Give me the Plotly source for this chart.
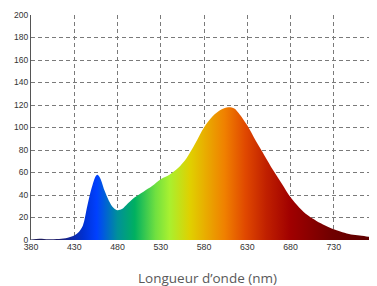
import plotly.graph_objects as go

wavelength = [380, 390, 400, 410, 420, 430, 435, 440, 445, 450, 455, 457, 460, 465, 470, 475, 480, 485,
              490, 500, 510, 520, 530, 540, 550, 560, 570, 580, 590, 600, 608, 615, 620, 630, 640,
              650, 660, 670, 680, 690, 700, 710, 720, 730, 740, 750, 760, 770, 780]
intensity = [0.5, 1.2, 0.6, 0.8, 1.5, 4, 7, 13, 30, 46, 57, 58, 55, 44, 35, 29, 26.5, 27.5,
             31, 38, 43, 48, 54, 58, 64, 73, 86, 100, 110, 116, 118, 117, 113, 102, 88,
             75, 62, 50, 38, 29, 22, 17, 13, 9.5, 7, 5, 4, 3, 2.5]

x_ticks = [380, 430, 480, 530, 580, 630, 680, 730, 780]
y_ticks = [0, 20, 40, 60, 80, 100, 120, 140, 160, 180, 200]
x_title = "Longueur d’onde (nm)"

spectrum = [
    [0.00, "#1c1c55"], [0.08, "#202070"], [0.15, "#0030d0"], [0.19, "#0040ff"],
    [0.25, "#00909a"], [0.30, "#00b060"], [0.36, "#70e040"], [0.40, "#a8f030"],
    [0.46, "#e0d000"], [0.50, "#e8b000"], [0.56, "#f08000"], [0.62, "#e04800"],
    [0.68, "#c02000"], [0.75, "#a00000"], [0.87, "#700000"], [1.00, "#5a0000"],
]

fig = go.Figure()
fig.add_trace(go.Scatter(
    x=wavelength, y=intensity, mode="lines", line=dict(width=0, shape="spline", smoothing=0.9),
    fill="tozeroy",
    fillgradient=dict(type="horizontal", colorscale=spectrum, start=380, stop=780),
    hoverinfo="skip", showlegend=False,
))

fig.add_annotation(
    text=x_title, xref="paper", yref="paper", x=0.510, y=-0.169,
    xanchor="center", yanchor="middle", showarrow=False,
    font=dict(family="Open Sans", size=13.5, color="#595959"),
)

# page body has an 8px default margin, so the figure is offset by (8, 8)
fig.update_layout(
    width=369, height=278,
    margin=dict(l=23, r=0, t=7, b=46),
    paper_bgcolor="white", plot_bgcolor="white",
    font=dict(family="Liberation Sans, Arial", size=8.8, color="#333333"),
    xaxis=dict(
        range=[380, 780], tickvals=x_ticks, ticktext=[str(v) for v in x_ticks],
        showgrid=True, gridcolor="#7a7a7a", griddash="4px,3px", gridwidth=1,
        zeroline=False, showline=False, ticks="", ticklen=0, automargin=False,
        ticklabeloverflow="allow",
        tickfont=dict(size=8.8, color="#333333"),
    ),
    yaxis=dict(
        range=[0, 200], tickvals=y_ticks, automargin=False,
        showgrid=True, gridcolor="#7a7a7a", griddash="4px,3px", gridwidth=1,
        zeroline=False, showline=True, linecolor="#555555", linewidth=1,
        ticks="", tickfont=dict(size=8.5, color="#333333"),
    ),
)

fig.write_html("out.html")
